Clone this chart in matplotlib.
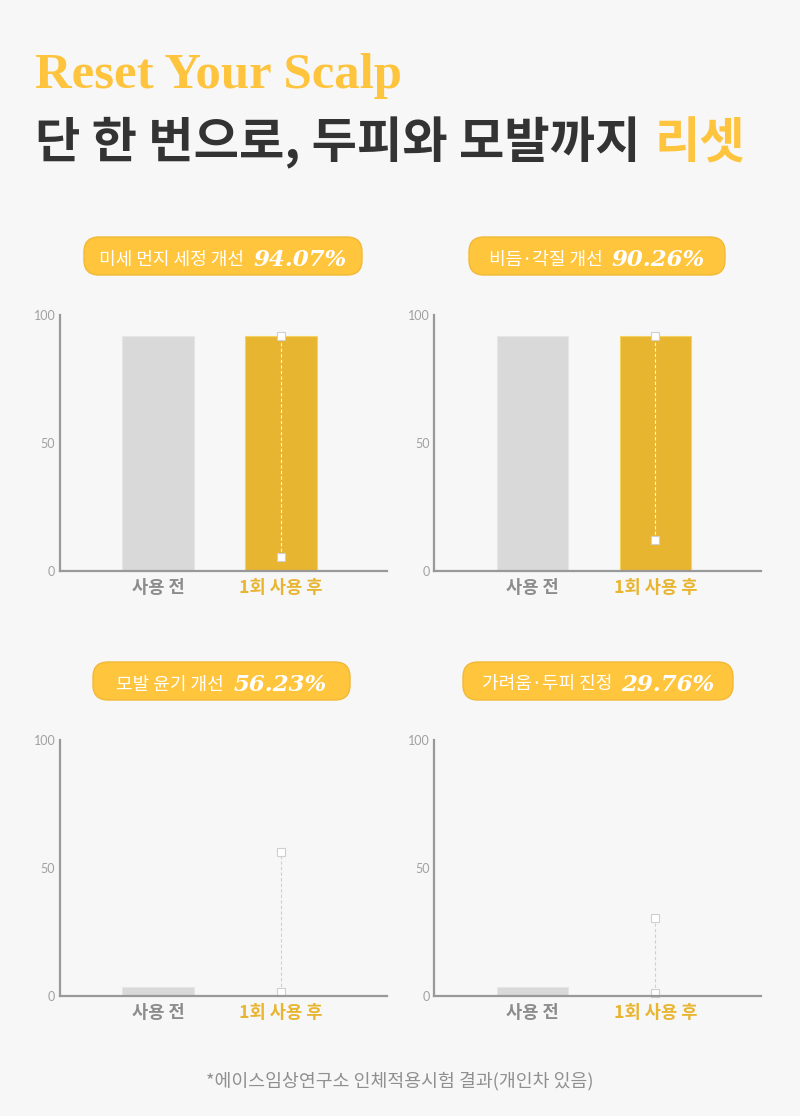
import matplotlib
matplotlib.use('Agg')
import matplotlib.pyplot as plt
from matplotlib.patches import FancyBboxPatch

# ---------------- data ----------------
categories = ['사용 전', '1회 사용 후']
badge_labels = ['미세 먼지 세정 개선', '비듬·각질 개선', '모발 윤기 개선', '가려움·두피 진정']
badge_values = ['94.07%', '90.26%', '56.23%', '29.76%']
before_values = [91.9, 91.9, 3.5, 3.5]
after_values = [91.9, 91.9, 0.0, 0.0]
marker_top = [91.9, 91.9, 56.4, 30.3]
marker_bottom = [5.4, 11.8, 1.6, 1.3]
y_ticks = [0, 50, 100]
y_tick_labels = ['0', '50', '100']

title_en = 'Reset Your Scalp'
title_ko_main = '단 한 번으로, 두피와 모발까지'
title_ko_accent = '리셋'
footnote = '*에이스임상연구소 인체적용시험 결과(개인차 있음)'

# ---------------- style ----------------
BG = '#F7F7F7'
YELLOW = '#FFC43D'
BAR_YELLOW = '#E8B530'
BAR_GRAY = '#D9D9D9'
DARK = '#333333'
KO = ['Noto Sans CJK KR', 'DejaVu Sans']

W, H = 800, 1116
fig = plt.figure(figsize=(8, 11.16), dpi=100)
fig.patch.set_facecolor(BG)

ov = fig.add_axes([0, 0, 1, 1], zorder=0)
ov.set_xlim(0, W)
ov.set_ylim(H, 0)
ov.axis('off')

renderer = fig.canvas.get_renderer()

def width_px(t):
    return t.get_window_extent(renderer).width

# titles
ov.text(35, 88, title_en, family='Liberation Serif', weight='bold',
        fontsize=36.5, color=YELLOW, va='baseline', ha='left')
t1 = ov.text(35, 158, title_ko_main, family=KO, weight='bold', fontsize=35.5,
             color=DARK, va='baseline', ha='left')
w1 = width_px(t1)
ov.text(35 + w1 + 14, 158, title_ko_accent, family=KO, weight='bold', fontsize=35.5,
        color=YELLOW, va='baseline', ha='left')

# chart layout (pixels)
panels = [
    dict(x0=59.5, x1=387, ytop=315, ybot=570.5, bx=(84, 362), by=237),
    dict(x0=434, x1=761, ytop=315, ybot=570.5, bx=(469, 725), by=237),
    dict(x0=59.5, x1=387, ytop=740, ybot=996, bx=(93, 350), by=662),
    dict(x0=434, x1=761, ytop=740, ybot=996, bx=(463, 733), by=662),
]

for i, p in enumerate(panels):
    # badge
    bx0, bx1 = p['bx']
    bh = 38
    box = FancyBboxPatch((bx0, p['by']), bx1 - bx0, bh,
                         boxstyle='round,pad=0,rounding_size=15',
                         facecolor='#FFC53D', edgecolor='#F2B936', linewidth=1.0,
                         mutation_aspect=1)
    ov.add_patch(box)
    cx = (bx0 + bx1) / 2
    base = p['by'] + 29
    ta = ov.text(0, base - 1.5, badge_labels[i], family=KO, weight='medium', fontsize=13,
                 color='white', va='baseline', ha='left')
    tb = ov.text(0, base, badge_values[i], family='DejaVu Serif', weight='bold',
                 style='italic', fontsize=16.5, color='white', va='baseline', ha='left')
    wa, wb = width_px(ta), width_px(tb)
    gap = 9
    start = cx - (wa + gap + wb) / 2
    ta.set_x(start)
    tb.set_x(start + wa + gap)

    # chart axes
    ax = fig.add_axes([p['x0'] / W, (H - p['ybot']) / H,
                       (p['x1'] - p['x0']) / W, (p['ybot'] - p['ytop']) / H], zorder=2)
    ax.set_facecolor('none')
    xs = [0, 1]
    ax.bar(xs[0], before_values[i], width=0.58, color=BAR_GRAY,
           edgecolor='#E6E6E6', linewidth=0.8, zorder=2)
    if after_values[i] > 0:
        ax.bar(xs[1], after_values[i], width=0.58, color=BAR_YELLOW,
               edgecolor='#F4D360', linewidth=0.8, zorder=2)
    over_bar = after_values[i] >= marker_top[i]
    ax.plot([xs[1], xs[1]], [marker_bottom[i], marker_top[i]],
            ls=(0, (3, 2)), lw=0.8, color='#F5F5F5' if over_bar else '#D0D0D0', zorder=3)
    ax.plot([xs[1], xs[1]], [marker_bottom[i], marker_top[i]], 's', ms=5.2,
            mfc='white', mec='#CFCFCF', mew=0.8, zorder=4, clip_on=False)
    ax.set_xlim(-0.80, 1.86)
    ax.set_ylim(0, 100)
    for s in ['top', 'right']:
        ax.spines[s].set_visible(False)
    for s in ['left', 'bottom']:
        ax.spines[s].set_color('#999999')
        ax.spines[s].set_linewidth(1.6)
        ax.spines[s].set_zorder(5)
    ax.set_yticks(y_ticks)
    ax.set_yticklabels(y_tick_labels, family='Lato', fontsize=9, color='#A0A0A0')
    ax.set_xticks(xs)
    ax.set_xticklabels(categories, family=KO, weight='bold', fontsize=12.7)
    ax.get_xticklabels()[0].set_color('#8C8C8C')
    ax.get_xticklabels()[1].set_color(BAR_YELLOW)
    ax.tick_params(axis='both', length=0)
    ax.tick_params(axis='y', pad=3)
    ax.tick_params(axis='x', pad=6)

ov.text(400, 1081, footnote, family=KO, fontsize=13.2, color='#8F8F8F',
        ha='center', va='center')

fig.savefig('out.png', dpi=100, facecolor=BG)
